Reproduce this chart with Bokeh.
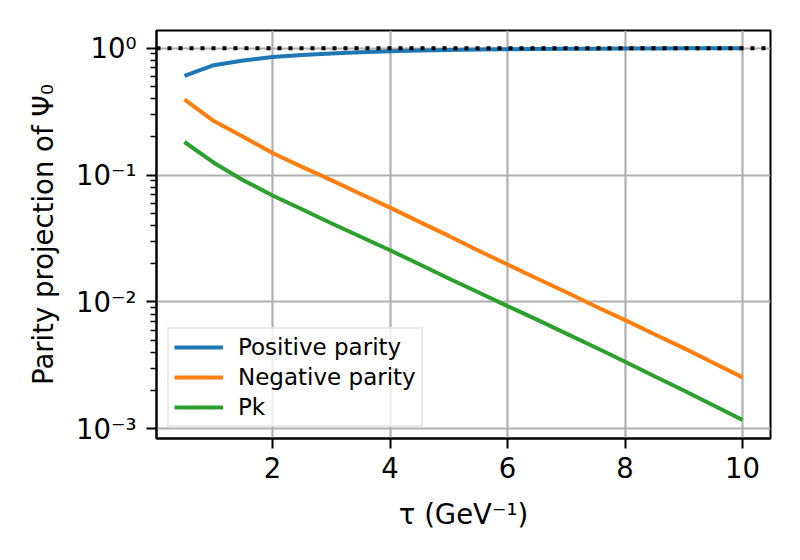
from bokeh.plotting import figure
from bokeh.models import Range1d, FixedTicker, CustomJSTickFormatter, Span, Legend, LegendItem
from bokeh.embed import file_html
from bokeh.resources import INLINE

tau = [0.5, 1.0, 1.5, 2.0, 2.5, 3.0, 3.5, 4.0, 4.5, 5.0,
       5.5, 6.0, 6.5, 7.0, 7.5, 8.0, 8.5, 9.0, 9.5, 10.0]
positive = [0.605, 0.734, 0.800, 0.851, 0.884, 0.909, 0.929, 0.945, 0.957, 0.967,
            0.975, 0.980, 0.985, 0.988, 0.991, 0.993, 0.994, 0.996, 0.997, 0.997]
negative = [0.395, 0.266, 0.200, 0.149, 0.116, 0.0912, 0.0708, 0.0553, 0.0427, 0.0331,
            0.0254, 0.0197, 0.0153, 0.0119, 0.0092, 0.00718, 0.00556, 0.00432, 0.00331, 0.00254]
pk = [0.182, 0.125, 0.091, 0.069, 0.0537, 0.0417, 0.0326, 0.0255, 0.0198, 0.0153,
      0.0119, 0.00925, 0.00724, 0.00562, 0.00437, 0.00337, 0.00259, 0.0020, 0.00153, 0.00117]
x_ticks = [2, 4, 6, 8, 10]
y_ticks = [0.001, 0.01, 0.1, 1.0]
y_minor = [m * d for d in [0.001, 0.01, 0.1] for m in range(2, 10)]
ref_level = 1.0

FONT = "DejaVu Sans"

p = figure(width=784, height=544, output_backend="svg", toolbar_location=None,
           y_axis_type="log",
           x_range=Range1d(0.025, 10.475),
           y_range=Range1d(10 ** -3.077, 10 ** 0.139),
           min_border_left=156, min_border_right=14, min_border_top=30, min_border_bottom=106)

p.background_fill_color = "white"
p.border_fill_color = "white"
p.outline_line_color = "black"
p.outline_line_width = 2

r_pos = p.line(tau, positive, line_color="#1f77b4", line_width=4)
r_neg = p.line(tau, negative, line_color="#ff7f0e", line_width=4)
r_pk = p.line(tau, pk, line_color="#2ca02c", line_width=4)

p.add_layout(Span(location=ref_level, dimension="width", line_color="black",
                  line_width=4, line_dash="4 7"))

p.xaxis.ticker = FixedTicker(ticks=x_ticks)
p.yaxis.ticker = FixedTicker(ticks=y_ticks, minor_ticks=y_minor)
p.yaxis.formatter = CustomJSTickFormatter(code="""
const e = Math.round(Math.log10(tick));
const sup = {"-":"\u207b","0":"\u2070","1":"\u00b9","2":"\u00b2","3":"\u00b3","4":"\u2074","5":"\u2075","6":"\u2076","7":"\u2077","8":"\u2078","9":"\u2079"};
return "10" + String(e).split("").map(c => sup[c]).join("");
""")

for ax in [p.xaxis[0], p.yaxis[0]]:
    ax.axis_line_color = "black"
    ax.axis_line_width = 2
    ax.major_tick_line_color = "black"
    ax.major_tick_line_width = 2
    ax.major_tick_out = 10
    ax.major_tick_in = 0
    ax.minor_tick_line_color = "black"
    ax.minor_tick_line_width = 1.6
    ax.minor_tick_out = 6
    ax.minor_tick_in = 0
    ax.major_label_text_font = FONT
    ax.major_label_text_font_size = "27.5px"
    ax.major_label_text_color = "black"
    ax.major_label_standoff = 10
    ax.axis_label_text_font = FONT
    ax.axis_label_text_font_size = "27.5px"
    ax.axis_label_text_font_style = "normal"
    ax.axis_label_text_color = "black"

p.xaxis.minor_tick_line_color = None
p.xaxis.major_label_standoff = 8
p.xaxis.axis_label = "\u03c4 (GeV\u207b\u00b9)"
p.yaxis.axis_label = "Parity projection of \u03a8\u2080"
p.xaxis.axis_label_standoff = 17
p.yaxis.axis_label_standoff = 14

p.grid.grid_line_color = "#b0b0b0"
p.grid.grid_line_width = 2.2

legend = Legend(items=[
    LegendItem(label="Positive parity", renderers=[r_pos]),
    LegendItem(label="Negative parity", renderers=[r_neg]),
    LegendItem(label="Pk", renderers=[r_pk]),
], location="bottom_left")
legend.margin = 11
legend.padding = 5
legend.spacing = 4
legend.glyph_width = 49
legend.glyph_height = 24
legend.label_height = 24
legend.label_standoff = 15
legend.label_text_font = FONT
legend.label_text_font_size = "23px"
legend.label_text_color = "black"
legend.border_line_color = "#d6d6d6"
legend.border_line_width = 2.5
legend.background_fill_color = "white"
legend.background_fill_alpha = 0.8
p.add_layout(legend, "center")

open("out.html", "w").write(file_html(p, INLINE))
